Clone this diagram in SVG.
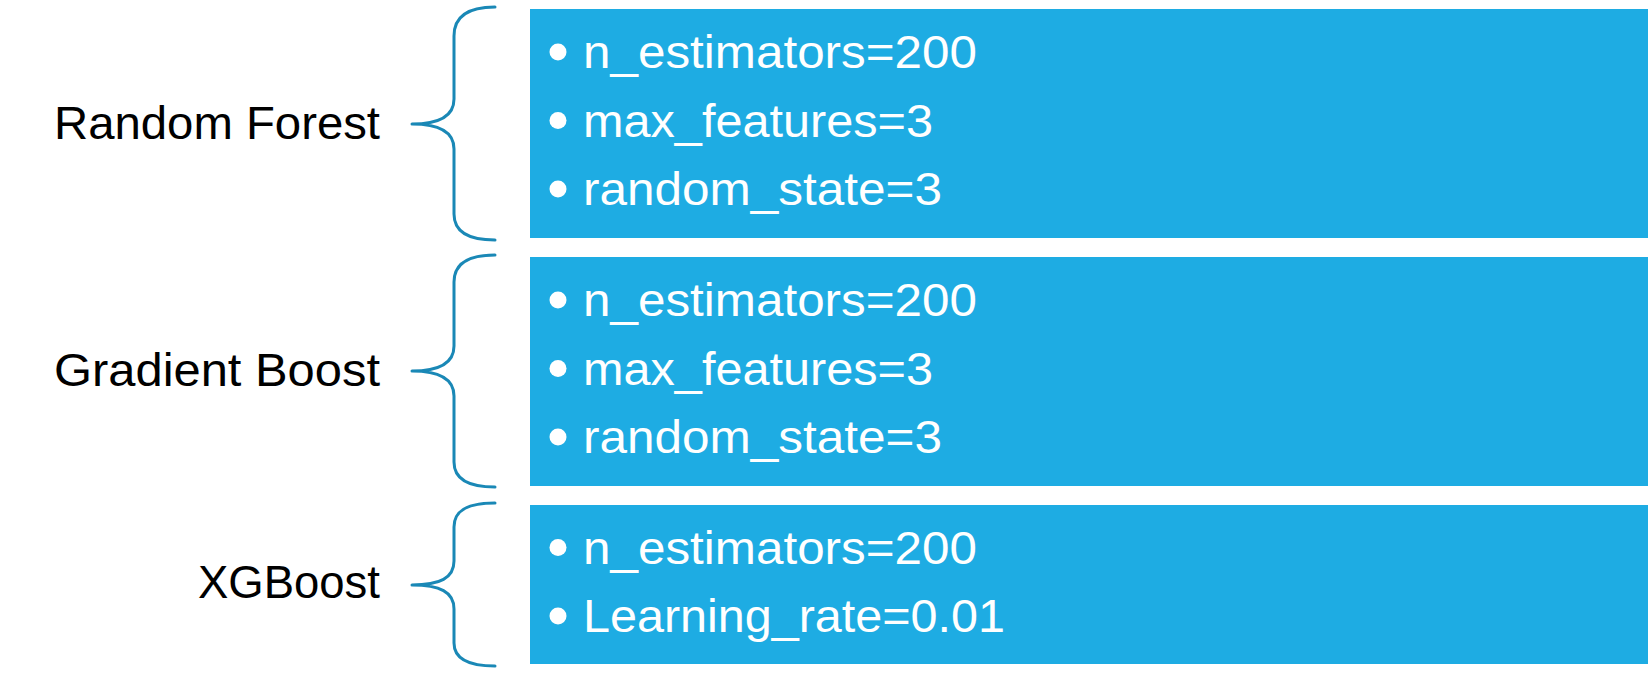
<svg xmlns="http://www.w3.org/2000/svg" width="1651" height="682" viewBox="0 0 1651 682">
  <style>
    .label { font-family: "Liberation Sans", Arial, sans-serif; font-size: 47px; fill: #000; text-anchor: end; }
    .item { font-family: "Liberation Sans", Arial, sans-serif; font-size: 46px; fill: #fff; }
    .box { fill: #1EACE3; }
    .bullet { fill: #fff; }
    .brace { fill: none; stroke: #1A88B6; stroke-width: 3; stroke-linecap: round; stroke-linejoin: round; }
  </style>
  <rect width="1651" height="682" fill="#fff"/>

  <!-- braces linking each model name to its parameter box -->
  <g id="connectors">
    <path class="brace" d="M495,7 C470,7 454,15 454,36 L454,99 C454,116 440,124 412,124 C440,124 454,132 454,149 L454,214 C454,233 470,240 495,240"/>
    <path class="brace" d="M495,255 C470,255 454,262 454,282 L454,346 C454,363 440,371 412,371 C440,371 454,379 454,396 L454,462 C454,480 470,487 495,487"/>
    <path class="brace" d="M495,503 C470,503 454,509 454,527 L454,561 C454,578 440,585 412,585 C440,585 454,592 454,609 L454,643 C454,660 470,666 495,666"/>
  </g>

  <g id="random-forest">
    <text class="label" x="380" y="139" textLength="326" lengthAdjust="spacingAndGlyphs">Random Forest</text>
    <rect class="box" x="530" y="9" width="1118" height="229"/>
    <circle class="bullet" cx="558" cy="52" r="8.5"/>
    <text class="item" x="583" y="68" textLength="394" lengthAdjust="spacingAndGlyphs">n_estimators=200</text>
    <circle class="bullet" cx="558" cy="120.5" r="8.5"/>
    <text class="item" x="583" y="136.5" textLength="350" lengthAdjust="spacingAndGlyphs">max_features=3</text>
    <circle class="bullet" cx="558" cy="189" r="8.5"/>
    <text class="item" x="583" y="205" textLength="359" lengthAdjust="spacingAndGlyphs">random_state=3</text>
  </g>

  <g id="gradient-boost">
    <text class="label" x="380" y="386" textLength="326" lengthAdjust="spacingAndGlyphs">Gradient Boost</text>
    <rect class="box" x="530" y="257" width="1118" height="229"/>
    <circle class="bullet" cx="558" cy="300" r="8.5"/>
    <text class="item" x="583" y="316" textLength="394" lengthAdjust="spacingAndGlyphs">n_estimators=200</text>
    <circle class="bullet" cx="558" cy="368.5" r="8.5"/>
    <text class="item" x="583" y="384.5" textLength="350" lengthAdjust="spacingAndGlyphs">max_features=3</text>
    <circle class="bullet" cx="558" cy="437" r="8.5"/>
    <text class="item" x="583" y="453" textLength="359" lengthAdjust="spacingAndGlyphs">random_state=3</text>
  </g>

  <g id="xgboost">
    <text class="label" x="380" y="598" textLength="182" lengthAdjust="spacingAndGlyphs">XGBoost</text>
    <rect class="box" x="530" y="505" width="1118" height="159"/>
    <circle class="bullet" cx="558" cy="547.5" r="8.5"/>
    <text class="item" x="583" y="563.5" textLength="394" lengthAdjust="spacingAndGlyphs">n_estimators=200</text>
    <circle class="bullet" cx="558" cy="616" r="8.5"/>
    <text class="item" x="583" y="632" textLength="422" lengthAdjust="spacingAndGlyphs">Learning_rate=0.01</text>
  </g>
</svg>
